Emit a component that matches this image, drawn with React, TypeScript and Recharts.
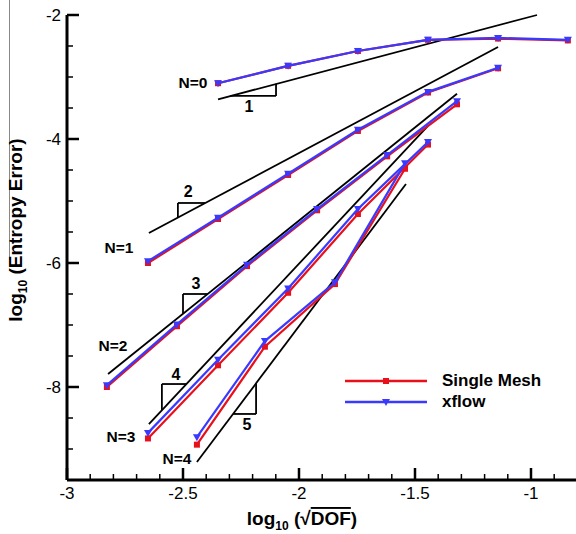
import React from 'react';
import { ComposedChart, Scatter, XAxis, YAxis, ReferenceLine, ReferenceDot, Legend, Label } from 'recharts';

// ---- data (log10 sqrt(DOF), log10 entropy error) ----
const xN0 = [-2.349, -2.047, -1.746, -1.444, -1.142, -0.841];
const singleN0 = [-3.1, -2.82, -2.58, -2.4, -2.38, -2.41];
const xflowN0 = [-3.1, -2.82, -2.58, -2.4, -2.37, -2.4];

const xN1 = [-2.651, -2.349, -2.047, -1.746, -1.444, -1.142];
const singleN1 = [-6.0, -5.29, -4.58, -3.87, -3.25, -2.86];
const xflowN1 = [-5.97, -5.27, -4.56, -3.85, -3.24, -2.85];

const xN2 = [-2.828, -2.526, -2.224, -1.922, -1.62, -1.319];
const singleN2 = [-8.0, -7.02, -6.05, -5.15, -4.28, -3.44];
const xflowN2 = [-7.97, -6.99, -6.03, -5.13, -4.26, -3.39];

const xN3 = [-2.651, -2.349, -2.047, -1.746, -1.444];
const singleN3 = [-8.83, -7.65, -6.48, -5.21, -4.09];
const xflowN3 = [-8.74, -7.56, -6.41, -5.13, -4.05];

const xN4 = [-2.44, -2.147, -1.845, -1.543];
const singleN4 = [-8.93, -7.35, -6.34, -4.48];
const xflowN4 = [-8.81, -7.26, -6.31, -4.39];

// slope reference lines (order 1..5): [x0, y0, x1, y1]
const slopeLines = [
  [-2.349, -3.36, -0.974, -2.0],
  [-2.647, -5.516, -1.142, -2.516],
  [-2.823, -7.79, -1.319, -3.27],
  [-2.647, -8.597, -1.444, -3.79],
  [-2.44, -9.21, -1.539, -4.726],
];
// slope triangles: polyline vertices
const triangles = [
  [[-2.296, -3.306], [-2.099, -3.306], [-2.099, -3.109]],
  [[-2.522, -5.266], [-2.522, -5.032], [-2.405, -5.032]],
  [[-2.5, -6.819], [-2.5, -6.5], [-2.394, -6.5]],
  [[-2.591, -8.373], [-2.591, -7.952], [-2.486, -7.952]],
  [[-2.284, -8.435], [-2.185, -8.435], [-2.185, -7.941]],
];
const slopeLabels = ['1', '2', '3', '4', '5'];
const slopeLabelPos = [[-2.216, -3.484], [-2.478, -4.855], [-2.444, -6.339], [-2.53, -7.806], [-2.224, -8.613]];
const orderLabels = ['N=0', 'N=1', 'N=2', 'N=3', 'N=4'];
const orderLabelPos = [[-2.457, -3.097], [-2.776, -5.758], [-2.802, -7.339], [-2.767, -8.806], [-2.526, -9.161]];

const xTicks = [-3, -2.9, -2.8, -2.7, -2.6, -2.5, -2.4, -2.3, -2.2, -2.1, -2, -1.9, -1.8, -1.7, -1.6, -1.5, -1.4, -1.3, -1.2, -1.1, -1, -0.9];
const xMajor = [-3, -2.5, -2, -1.5, -1];
const yTicks = [-2, -2.5, -3, -3.5, -4, -4.5, -5, -5.5, -6, -6.5, -7, -7.5, -8, -8.5, -9];
const yMajor = [-2, -4, -6, -8];

const seriesNames = ['Single Mesh', 'xflow'];
const RED = '#e8101a';
const BLUE = '#3a3aff';
const FONT = '"Liberation Sans", Arial, sans-serif';

const toPts = (xs: number[], ys: number[]) => xs.map((x, i) => ({ x, y: ys[i] }));
const singleSets = [toPts(xN0, singleN0), toPts(xN1, singleN1), toPts(xN2, singleN2), toPts(xN3, singleN3), toPts(xN4, singleN4)];
const xflowSets = [toPts(xN0, xflowN0), toPts(xN1, xflowN1), toPts(xN2, xflowN2), toPts(xN3, xflowN3), toPts(xN4, xflowN4)];

const Square = (p: any) => <rect x={p.cx - 3} y={p.cy - 3} width={6} height={6} fill={RED} />;
const TriDown = (p: any) => (
  <polygon points={`${p.cx - 4},${p.cy - 3} ${p.cx + 4},${p.cy - 3} ${p.cx},${p.cy + 4}`} fill={BLUE} />
);

const XTick = (props: any) => {
  const { x, y, payload } = props;
  const major = xMajor.includes(payload.value);
  return (
    <g>
      <line x1={x} x2={x} y1={y} y2={y - (major ? 12 : 6)} stroke="#000" strokeWidth={major ? 2.5 : 1.5} />
      {major && (
        <text x={x} y={y + 19} textAnchor="middle" fontSize={17} fontFamily={FONT} fill="#000">
          {String(payload.value)}
        </text>
      )}
    </g>
  );
};

const YTick = (props: any) => {
  const { x, y, payload } = props;
  const major = yMajor.includes(payload.value);
  return (
    <g>
      <line x1={x} x2={x + (major ? 12 : 6)} y1={y} y2={y} stroke="#000" strokeWidth={major ? 2.5 : 1.5} />
      {major && (
        <text x={x - 6} y={y + 6} textAnchor="end" fontSize={17} fontFamily={FONT} fill="#000">
          {String(payload.value)}
        </text>
      )}
    </g>
  );
};

const XLabel = () => (
  <text x={302} y={525} textAnchor="middle" fontSize={19} fontWeight="bold" fontFamily={FONT} fill="#000">
    log
    <tspan fontSize={12} dy={5}>10</tspan>
    <tspan dy={-5}> (√</tspan>
    <tspan style={{ textDecoration: 'overline' }}>DOF</tspan>
    <tspan>)</tspan>
  </text>
);

const YLabel = () => (
  <text
    x={0}
    y={0}
    transform="translate(22,230) rotate(-90)"
    textAnchor="middle"
    fontSize={19}
    fontWeight="bold"
    fontFamily={FONT}
    fill="#000"
  >
    log
    <tspan fontSize={12} dy={5}>10</tspan>
    <tspan dy={-5}> (Entropy Error)</tspan>
  </text>
);

const LegendContent = () => (
  <div style={{ fontFamily: FONT, fontWeight: 'bold', fontSize: 17, color: '#000' }}>
    {seriesNames.map((name, i) => (
      <div key={name} style={{ display: 'flex', alignItems: 'center', height: 21 }}>
        <svg width={82} height={12} style={{ display: 'block' }}>
          <line x1={0} x2={82} y1={6} y2={6} stroke={i === 0 ? RED : BLUE} strokeWidth={2.5} />
          {i === 0 ? Square({ cx: 41, cy: 6 }) : TriDown({ cx: 41, cy: 6 })}
        </svg>
        <span style={{ marginLeft: 15, lineHeight: '21px' }}>{name}</span>
      </div>
    ))}
  </div>
);

export default function App() {
  return (
    <div style={{ position: 'absolute', left: 0, top: 0, width: 576, height: 534, background: '#fff' }}>
      <div style={{ position: 'absolute', left: 9, top: 0, width: 1, height: 260, background: '#888' }} />
      <ComposedChart width={576} height={534} margin={{ top: 15, right: 0, bottom: 0, left: 0 }}>
        <XAxis
          type="number"
          dataKey="x"
          domain={[-3, -0.806]}
          allowDataOverflow
          ticks={xTicks}
          interval={0}
          height={54}
          tickSize={0}
          tickMargin={0}
          tickLine={false}
          axisLine={{ stroke: '#000', strokeWidth: 3 }}
          tick={<XTick />}
        >
          <Label content={<XLabel />} />
        </XAxis>
        <YAxis
          type="number"
          dataKey="y"
          domain={[-9.5, -2]}
          allowDataOverflow
          ticks={yTicks}
          interval={0}
          width={67}
          tickSize={0}
          tickMargin={0}
          tickLine={false}
          axisLine={{ stroke: '#000', strokeWidth: 3 }}
          tick={<YTick />}
        >
          <Label content={<YLabel />} />
        </YAxis>
        {slopeLines.map((s, i) => (
          <ReferenceLine
            key={'sl' + i}
            segment={[{ x: s[0], y: s[1] }, { x: s[2], y: s[3] }]}
            stroke="#000"
            strokeWidth={1.8}
            ifOverflow="visible"
          />
        ))}
        {triangles.map((t, i) =>
          [0, 1].map((k) => (
            <ReferenceLine
              key={'tr' + i + k}
              segment={[{ x: t[k][0], y: t[k][1] }, { x: t[k + 1][0], y: t[k + 1][1] }]}
              stroke="#000"
              strokeWidth={1.8}
              ifOverflow="visible"
            />
          ))
        )}
        {slopeLabels.map((lab, i) => (
          <ReferenceDot
            key={'slab' + i}
            x={slopeLabelPos[i][0]}
            y={slopeLabelPos[i][1]}
            r={0}
            ifOverflow="visible"
            shape={(p: any) => (
              <text x={p.cx} y={p.cy + 5} textAnchor="middle" fontSize={16} fontWeight="bold" fontFamily={FONT} fill="#000">
                {lab}
              </text>
            )}
          />
        ))}
        {orderLabels.map((lab, i) => (
          <ReferenceDot
            key={'olab' + i}
            x={orderLabelPos[i][0]}
            y={orderLabelPos[i][1]}
            r={0}
            ifOverflow="visible"
            shape={(p: any) => (
              <text x={p.cx} y={p.cy + 5} textAnchor="middle" fontSize={15.5} fontWeight="bold" fontFamily={FONT} fill="#000">
                {lab}
              </text>
            )}
          />
        ))}
        {singleSets.map((d, i) => (
          <Scatter
            key={'s' + i}
            name={seriesNames[0]}
            data={d}
            fill={RED}
            line={{ stroke: RED, strokeWidth: 2.2 }}
            shape={Square}
            isAnimationActive={false}
          />
        ))}
        {xflowSets.map((d, i) => (
          <Scatter
            key={'f' + i}
            name={seriesNames[1]}
            data={d}
            fill={BLUE}
            line={{ stroke: BLUE, strokeWidth: 2.2 }}
            shape={TriDown}
            isAnimationActive={false}
          />
        ))}
        <Legend
          layout="horizontal"
          verticalAlign="middle"
          align="center"
          content={<LegendContent />}
          wrapperStyle={{ position: 'absolute', left: 345, top: 370, width: 230, height: 42 }}
        />
      </ComposedChart>
    </div>
  );
}
